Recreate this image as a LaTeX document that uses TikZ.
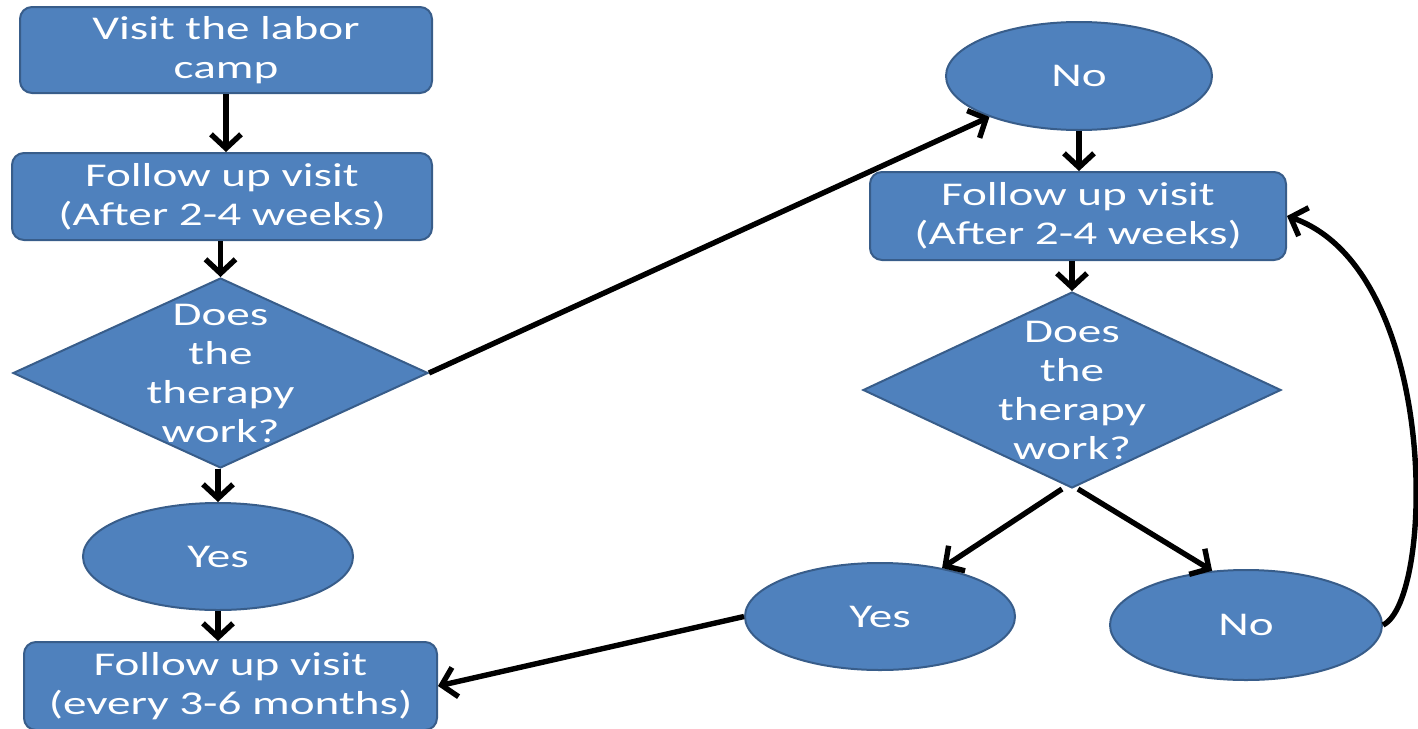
\documentclass[tikz,border=0pt]{standalone}
\usepackage{fontspec}
\setmainfont{Carlito}[FakeStretch=1.42]
\usetikzlibrary{shapes.geometric,arrows.meta,calc}
\definecolor{boxblue}{HTML}{4F81BD}
\definecolor{edgeblue}{HTML}{385D8A}
\begin{document}
\begin{tikzpicture}[x=0.5pt,y=-0.5pt,
  base/.style={fill=boxblue,draw=edgeblue,line width=1pt,text=white,
    font=\fontsize{16.6}{19.5}\selectfont,align=center,inner sep=0pt},
  procbox/.style={base,rectangle,rounded corners=6pt},
  decision/.style={base,diamond},
  oval/.style={base,ellipse},
  lbl/.style={text=white,font=\fontsize{16.6}{19.5}\selectfont,align=center,inner sep=0pt},
  conn/.style={line width=2.7pt,-{Straight Barb[length=7pt,width=15pt]}}]
\useasboundingbox (0,0) rectangle (1418,728);
% left column
\node[procbox,minimum width=206pt,minimum height=43pt] (b1) at (226,50) {Visit the labor\\camp};
\node[procbox,minimum width=210pt,minimum height=43.5pt] (b2) at (222,196.5) {Follow up visit\\(After 2-4 weeks)};
\node[decision,minimum width=207.5pt,minimum height=95pt] (d1) at (220.5,373) {};
\node[lbl] (d1t) at (d1) {Does\\the\\therapy\\work?};
\node[oval,minimum width=135pt,minimum height=53.5pt] (yes1) at (218,556.5) {Yes};
\node[procbox,minimum width=206.5pt,minimum height=44pt] (b3) at (230.5,686) {Follow up visit\\(every 3-6 months)};
% right column
\node[oval,minimum width=133pt,minimum height=54pt] (no1) at (1079,76) {No};
\node[procbox,minimum width=208pt,minimum height=44pt] (b4) at (1078,216) {Follow up visit\\(After 2-4 weeks)};
\node[decision,minimum width=209pt,minimum height=98pt] (d2) at (1072,390) {};
\node[lbl] (d2t) at (d2) {Does\\the\\therapy\\work?};
\node[oval,minimum width=135pt,minimum height=53.5pt] (yes2) at (880,616.5) {Yes};
\node[oval,minimum width=136pt,minimum height=55pt] (no2) at (1246,625) {No};
% connectors
\draw[conn] (b1.south) -- (b1.south |- b2.north);
\draw[conn] (d1.north |- b2.south) -- (d1.north);
\draw[conn] (yes1.north |- d1.south) -- (yes1.north);
\draw[conn] (yes1.south) -- (yes1.south |- b3.north);
\draw[conn] (d1.east) -- (no1);
\draw[conn] (no1.south) -- (no1.south |- b4.north);
\draw[conn] (d2.north |- b4.south) -- (d2.north);
\draw[conn] ($(d2.south)+(-10,0)$) -- (yes2.38);
\draw[conn] ($(d2.south)+(6,0)$) -- (no2.122);
\draw[conn] (yes2.west) -- (b3.east);
\draw[conn] (no2.east) .. controls (1435,600) and (1440,270) .. (b4.east);
\end{tikzpicture}
\end{document}
